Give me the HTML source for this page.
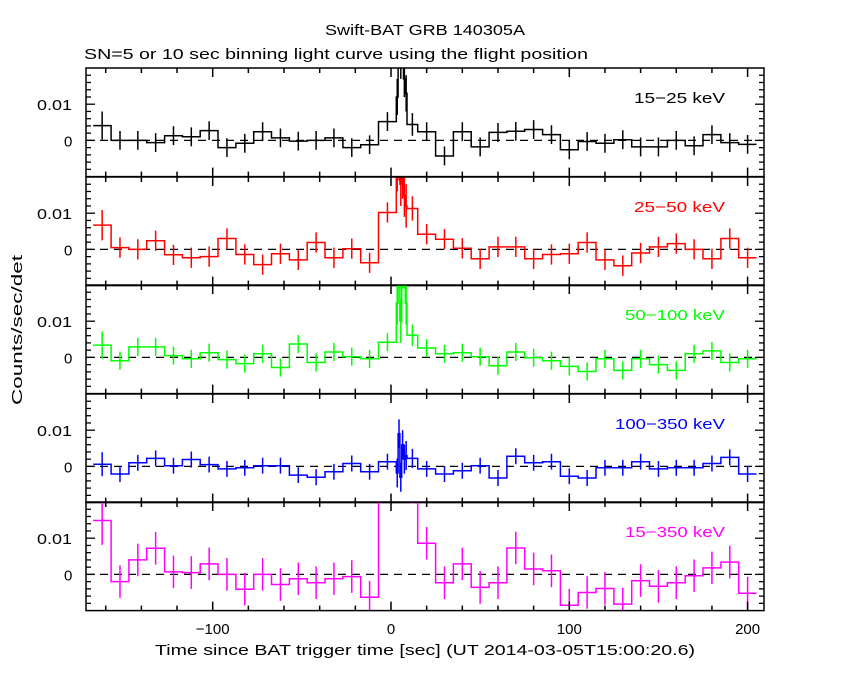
<!DOCTYPE html>
<html><head><meta charset="utf-8"><style>
body{margin:0;background:#fff;}
svg{display:block;font-family:"Liberation Sans",sans-serif;}
</style></head><body>
<svg id="c" width="850" height="680" viewBox="0 0 850 680">
<text x="325" y="35" font-size="15" textLength="200" lengthAdjust="spacingAndGlyphs">Swift-BAT GRB 140305A</text>
<text x="84" y="59" font-size="15" textLength="504" lengthAdjust="spacingAndGlyphs">SN=5 or 10 sec binning light curve using the flight position</text>
<text x="155" y="655" font-size="15" textLength="540" lengthAdjust="spacingAndGlyphs">Time since BAT trigger time [sec] (UT 2014-03-05T15:00:20.6)</text>
<text transform="translate(22,405) rotate(-90)" font-size="15" textLength="150" lengthAdjust="spacingAndGlyphs">Counts/sec/det</text>
<g id="plots"></g>
</svg>
<script>
// bin edges (sec)
const preStart = -167;      // 17 regular 10 s bins before burst
const burstEdges = [3,4,5,6,7,8,9,15];
const postStart = 15;       // 19 regular 10 s bins after burst
const bands = ["15-25 keV","25-50 keV","50-100 keV","100-350 keV","15-350 keV"];
const colors = ["#000000","#ff0000","#00ff00","#0000ff","#ff00ff"];
const pre1 = [0.0041,0,0,-0.0006,0.0013,0.001,0.0027,-0.002,-0.0008,0.0024,0.0007,-0.0002,0,0.0007,-0.002,-0.0012,0.0052];
const burst1 = [0.012,0.025,0.022,0.025,0.017,0.013,0.0044];
const post1 = [0.0024,-0.0043,0.0024,-0.0018,0.0022,0.0025,0.003,0.0016,-0.0026,-0.0003,-0.0008,0.0002,-0.0018,-0.0018,0,-0.0015,0.0016,-0.0006,-0.0011];
const pre2 = [0.0067,0.0005,0,0.0024,-0.0015,-0.0023,-0.002,0.003,-0.0014,-0.0042,-0.0012,-0.0029,0.0019,-0.0023,0.0002,-0.0037,0.0102];
const burst2 = [0.022,0.025,0.018,0.02,0.015,0.012,0.0113];
const post2 = [0.0042,0.0028,0.0003,-0.0026,0.0007,0.0007,-0.0026,-0.0014,-0.0012,0.0019,-0.0029,-0.0045,-0.001,0.0007,0.0016,0,-0.0026,0.003,-0.0023];
const pre3 = [0.0034,-0.0009,0.0029,0.0029,0.0005,-0.0004,0.0013,-0.0006,-0.0017,0.001,-0.0028,0.0037,-0.0014,0.0015,0.0002,-0.0004,0.0042];
const burst3 = [0.015,0.025,0.01,0.025,0.025,0.015,0.0061];
const post3 = [0.0026,0.001,0.0013,0.0002,-0.0023,0.0015,-0.0001,-0.0009,-0.0025,-0.0039,-0.0004,-0.0036,-0.0004,-0.002,-0.0036,0.001,0.0018,-0.0014,-0.0004];
const pre4 = [0.0006,-0.0021,0.001,0.0022,0.0002,0.0019,0.0005,-0.0007,-0.0004,0.0002,0.0002,-0.0024,-0.003,-0.0015,0.0008,-0.0015,0.0013];
const burst4 = [-0.0018,0.009,-0.003,0.006,0.002,0.003,0.0022];
const post4 = [-0.0007,-0.0021,-0.0012,0.0002,-0.0032,0.0028,0.001,0.0013,-0.0027,-0.0032,-0.0004,-0.0004,0.0013,-0.0007,-0.0004,-0.0004,0.0008,0.0025,-0.0021];
const pre5 = [0.0149,-0.002,0.004,0.0072,0.0007,0.0005,0.0029,0,-0.0041,0,-0.0028,-0.0012,-0.0023,-0.0012,-0.0006,-0.0063,0.03];
const burst5 = [0.04,0.04,0.04,0.04,0.04,0.04,0.025];
const post5 = [0.0086,-0.0023,0.0029,-0.0036,-0.0023,0.0073,0.0015,0.001,-0.0085,-0.005,-0.0039,-0.0082,-0.0017,-0.0033,-0.0023,-0.0004,0.0018,0.0034,-0.0052];
const errs = [0.0026,0.0028,0.0025,0.0022,0.0045];
const burstErrs = [0.005,0.006,0.006,0.004,0.008];
const xTicks = [-100,0,100,200];
const yTicks = [0,0.01];

const NS="http://www.w3.org/2000/svg";
const X0=391, XS=1.783, L=86, R=764;
const tops=[68,177,285,394,502], PH=108.6;
const YMIN=-0.01, YMAX=0.02;
function sx(t){return X0+t*XS;}
function mk(tag,attrs,parent){const e=document.createElementNS(NS,tag);for(const k in attrs)e.setAttribute(k,attrs[k]);parent.appendChild(e);return e;}
const root=document.getElementById('plots');
const defs=mk('defs',{},root);
const pres=[pre1,pre2,pre3,pre4,pre5], bursts=[burst1,burst2,burst3,burst4,burst5], posts=[post1,post2,post3,post4,post5];
const labelW=[91,91,100,110,100];
for(let p=0;p<5;p++){
  const top=tops[p];
  const sy=v=>top+(YMAX-v)/(YMAX-YMIN)*PH;
  const cp=mk('clipPath',{id:'cp'+p},defs);
  mk('rect',{x:L,y:top,width:R-L,height:PH},cp);
  const g=mk('g',{'clip-path':'url(#cp'+p+')'},root);
  
  
  const bins=[];
  pres[p].forEach((v,i)=>bins.push([preStart+10*i,preStart+10*(i+1),v,errs[p]*(i==0?1.5:1)]));
  bursts[p].forEach((v,i)=>bins.push([burstEdges[i],burstEdges[i+1],v,i<6?burstErrs[p]:errs[p]*1.2]));
  posts[p].forEach((v,i)=>bins.push([postStart+10*i,postStart+10*(i+1),v,errs[p]]));
  const z=mk('line',{x1:L,x2:R,y1:sy(0),y2:sy(0),stroke:'#000','stroke-width':1.3,'stroke-dasharray':'8,6'},g);
  
  
  let d='';
  bins.forEach((b,i)=>{
    d+=(i==0?'M':'L')+sx(b[0]).toFixed(1)+','+sy(b[2]).toFixed(1)+'L'+sx(b[1]).toFixed(1)+','+sy(b[2]).toFixed(1);
    const xc=sx((b[0]+b[1])/2);
    const eb=mk('line',{x1:xc,x2:xc,y1:sy(b[2]-b[3]),y2:sy(b[2]+b[3]),stroke:colors[p],'stroke-width':1.5},g);
    
    
  });
  const path=mk('path',{d:d,fill:'none',stroke:colors[p],'stroke-width':1.5},g);
  
  
  const fr=mk('rect',{x:L,y:top,width:R-L,height:PH,fill:'none',stroke:'#000','stroke-width':1.5},root);
  
  
  for(let t=-160;t<=200;t+=20){
    const major=(t%100===0), len=major?9:5;
    [[top,top+len],[top+PH,top+PH-len]].forEach(a=>{
      const tk=mk('line',{x1:sx(t),x2:sx(t),y1:a[0],y2:a[1],stroke:'#000','stroke-width':1.5},root);
      
      
    });
  }
  for(let k=-4;k<=10;k++){
    const v=k*0.002; const y=sy(v); if(y<top+1||y>top+PH-1)continue;
    const major=(k%5===0), len=major?9:5;
    [[L,L+len],[R,R-len]].forEach(a=>{
      const tk=mk('line',{x1:a[0],x2:a[1],y1:y,y2:y,stroke:'#000','stroke-width':1.3},root);
      
      
    });
  }
  yTicks.forEach(v=>{
    const t=mk('text',{x:v===0?64:37,y:sy(v)+6,'font-size':15},root);
    if(v!==0){t.setAttribute('textLength',35);t.setAttribute('lengthAdjust','spacingAndGlyphs');}
    t.textContent=v===0?'0':'0.01';
    
    
  });
  const bl=mk('text',{x:725-labelW[p],y:top+35,'font-size':15,fill:colors[p],textLength:labelW[p],lengthAdjust:'spacingAndGlyphs'},root);
  bl.textContent=bands[p].replace('-','\u2212');
  
  
}
xTicks.forEach(t=>{
  const e=mk('text',{x:sx(t),y:634,'text-anchor':'middle','font-size':15},root);
  e.textContent=t<0?'\u2212'+(-t):String(t);
  
  
});
</script>
</body></html>
